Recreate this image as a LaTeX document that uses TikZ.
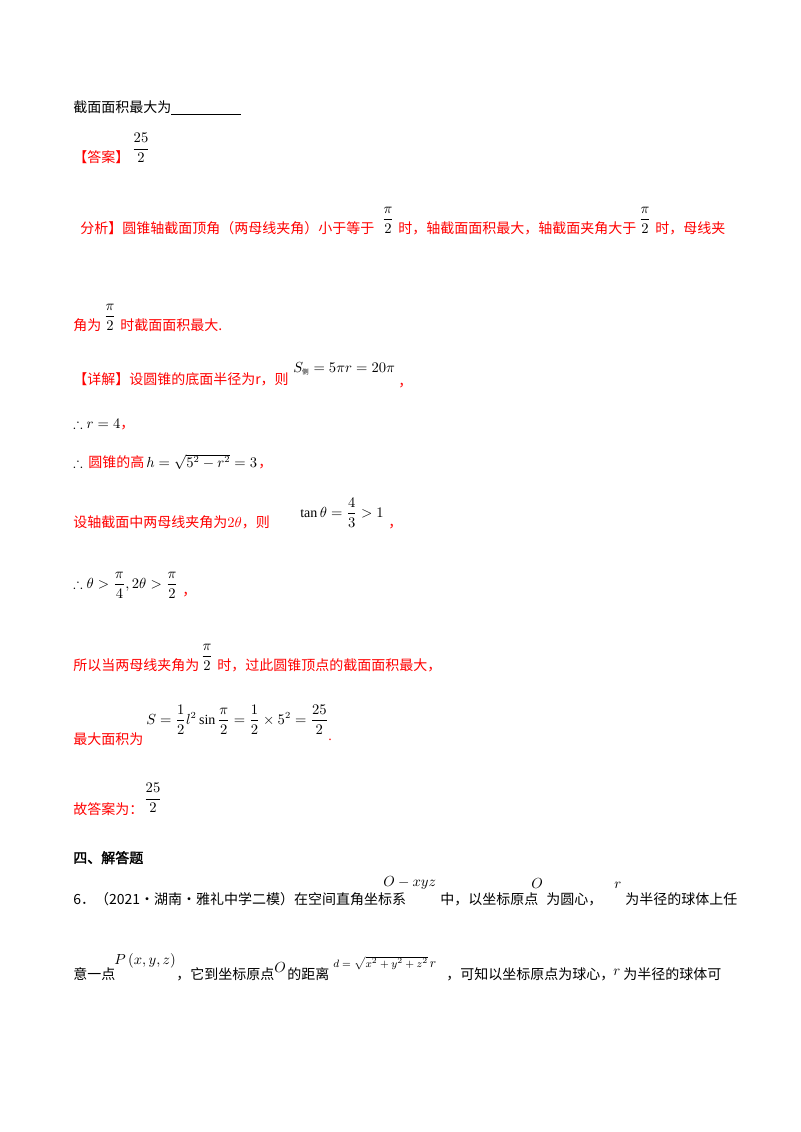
\documentclass[tikz,border=0pt]{standalone}
\usepackage{amsmath,amssymb}
\usepackage{fontspec}
\setmainfont{Liberation Serif}
\newfontfamily\cjk{Noto Sans CJK SC}
\newfontfamily\cjkb[FakeBold=2]{Noto Sans CJK SC}
\begin{document}
\begin{tikzpicture}[x=0.75pt,y=-0.75pt,
  t/.style={anchor=base west,inner sep=0pt,font=\fontsize{10.5}{12}\selectfont},
  r/.style={t,text=red},
  m/.style={anchor=center,inner sep=0pt,font=\fontsize{10.5}{12}\selectfont}]
\useasboundingbox (0,0) rectangle (800,1132);
\node[t] (l1) at (73,112) {\cjk 截面面积最大为\underline{\hspace{52pt}}};
\node[r] (l2) at (73,162) {\cjk 【答案】};
\node[m] (f1) at (141,148) {$\dfrac{25}{2}$};
\node[r] (l3) at (80,233) {\cjk 分析】圆锥轴截面顶角（两母线夹角）小于等于};
\node[m] (f2) at (388,220) {$\dfrac{\pi}{2}$};
\node[r] (l3b) at (398,233) {\cjk 时，轴截面面积最大，轴截面夹角大于};
\node[m] (f3) at (645,220) {$\dfrac{\pi}{2}$};
\node[r] (l3c) at (655,233) {\cjk 时，母线夹};
\node[r] (l4) at (73,330) {\cjk 角为};
\node[m] (f4) at (110,317) {$\dfrac{\pi}{2}$};
\node[r] (l4b) at (120,330) {\cjk 时截面面积最大.};
\node[r] (l5) at (73,384) {\cjk 【详解】设圆锥的底面半径为r，则};
\node[t] (e1) at (293,372) {$S_{\text{\tiny\cjk 侧}}=5\pi r=20\pi$};
\node[r] (c1) at (398,386) {\cjk ，};
\node[t] (e2) at (73,428) {$\therefore r=4$};
\node[r] (c2) at (120,428) {\cjk ，};
\node[t] (e3) at (73,467) {$\therefore$};
\node[r] (l6) at (88,467) {\cjk 圆锥的高};
\node[t] (e4) at (146,467) {$h=\sqrt{5^2-r^2}=3$};
\node[r] (c3) at (258,467) {\cjk ，};
\node[r] (l7) at (73,527) {\cjk 设轴截面中两母线夹角为$2\theta$，则};
\node[t] (e5) at (300,517) {$\tan\theta=\dfrac{4}{3}>1$};
\node[r] (c4) at (388,527) {\cjk ，};
\node[t] (e6) at (73,588) {$\therefore\theta>\dfrac{\pi}{4},2\theta>\dfrac{\pi}{2}$};
\node[r] (c5) at (182,595) {\cjk ，};
\node[r] (l8) at (73,670) {\cjk 所以当两母线夹角为};
\node[m] (f5) at (207,657) {$\dfrac{\pi}{2}$};
\node[r] (l8b) at (217,670) {\cjk 时，过此圆锥顶点的截面面积最大，};
\node[r] (l9) at (73,744) {\cjk 最大面积为};
\node[t] (e7) at (146,724) {$S=\dfrac{1}{2}l^2\sin\dfrac{\pi}{2}=\dfrac{1}{2}\times5^2=\dfrac{25}{2}$};
\node[r] (c6) at (328,740) {.};
\node[r] (l10) at (73,814) {\cjk 故答案为：};
\node[m] (f6) at (153,798) {$\dfrac{25}{2}$};
\node[t] (h1) at (73,863) {\cjkb 四、解答题};
\node[t] (p1) at (73,904) {\cjk 6．（2021·湖南·雅礼中学二模）在空间直角坐标系};
\node[t] (p1a) at (383,886) {$O-xyz$};
\node[t] (p1b) at (440,904) {\cjk 中，以坐标原点};
\node[t] (p1c) at (531,888) {$O$};
\node[t] (p1d) at (546,904) {\cjk 为圆心，};
\node[t] (p1e) at (614,888) {$r$};
\node[t] (p1f) at (625,904) {\cjk 为半径的球体上任};
\node[t] (p2) at (73,979) {\cjk 意一点};
\node[t] (p2a) at (114,964) {$P\left(x,y,z\right)$};
\node[t] (p2b) at (176,979) {\cjk ，它到坐标原点};
\node[t] (p2c) at (274,972) {$O$};
\node[t] (p2d) at (287,979) {\cjk 的距离};
\node[t] (p2e) at (333,967) {\footnotesize$d=\sqrt{x^2+y^2+z^2}$\,\normalsize$r$};
\node[t] (p2f) at (446,979) {\cjk ，可知以坐标原点为球心，};
\node[t] (p2g) at (613,975) {$r$};
\node[t] (p2h) at (623,979) {\cjk 为半径的球体可};
\end{tikzpicture}
\end{document}
